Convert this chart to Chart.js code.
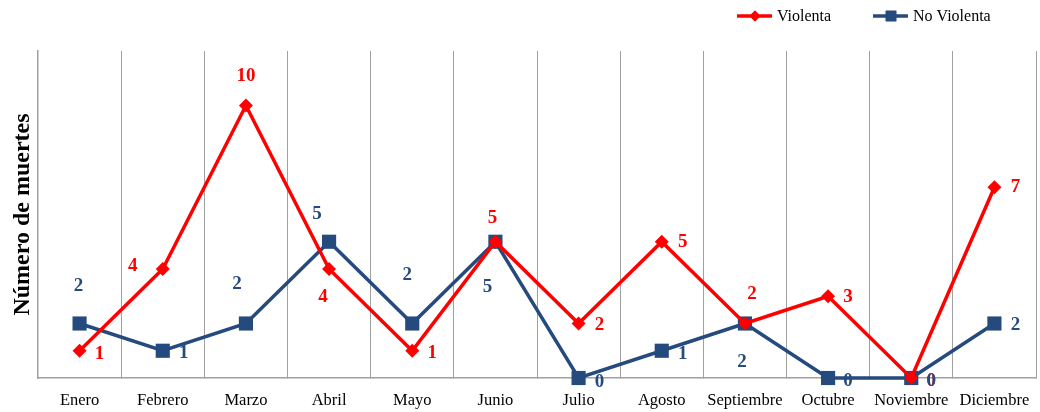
<!DOCTYPE html>
<html>
<head>
<meta charset="utf-8">
<script src="https://cdn.jsdelivr.net/npm/chart.js@4.4.1/dist/chart.umd.min.js"></script>
<style>
  html, body { margin: 0; padding: 0; background: #fff; }
  #wrap { width: 1040px; height: 412px; position: relative; }
</style>
</head>
<body>
<div id="wrap"><canvas id="muertesChart"></canvas></div>
<script>
const months = ['Enero', 'Febrero', 'Marzo', 'Abril', 'Mayo', 'Junio', 'Julio', 'Agosto', 'Septiembre', 'Octubre', 'Noviembre', 'Diciembre'];
const violenta = [1, 4, 10, 4, 1, 5, 2, 5, 2, 3, 0, 7];
const noViolenta = [2, 1, 2, 5, 2, 5, 0, 1, 2, 0, 0, 2];

const RED = '#ff0000';
const BLUE = '#254a7e';
const SERIF = '"Liberation Serif", "Times New Roman", serif';

// where each value label sits relative to its point (dx, dy)
const labelOffsets = [
  [[20, 3], [-30, -3], [0, -29], [-6, 28], [20, 2], [-3, -24], [21, 2], [21, 0], [7, -29], [20, 1], [20, 3], [21, 0]],
  [[-1, -37], [21, 2], [-9, -39], [-12, -28], [-5, -48], [-8, 45], [21, 4], [21, 3], [-3, 39], [20, 3], [20, 3], [21, 2]]
];

const valueLabels = {
  id: 'valueLabels',
  afterDatasetsDraw(chart) {
    const ctx = chart.ctx;
    ctx.save();
    ctx.font = 'bold 19px ' + SERIF;
    ctx.textAlign = 'center';
    ctx.textBaseline = 'middle';
    chart.data.datasets.forEach((ds, di) => {
      chart.getDatasetMeta(di).data.forEach((pt, i) => {
        const [dx, dy] = labelOffsets[di][i];
        ctx.fillStyle = ds.borderColor;
        ctx.fillText(String(ds.data[i]), pt.x + dx, pt.y + dy);
      });
    });
    ctx.restore();
  }
};

// legend in the top right: short line with the marker, then the name
const lineLegend = {
  id: 'lineLegend',
  afterDraw(chart) {
    const ctx = chart.ctx;
    const items = [
      { x: 737, ds: chart.data.datasets[0] },
      { x: 873, ds: chart.data.datasets[1] }
    ];
    const y = 16;
    ctx.save();
    ctx.font = '16px ' + SERIF;
    ctx.textBaseline = 'middle';
    items.forEach(({ x, ds }) => {
      ctx.strokeStyle = ds.borderColor;
      ctx.lineWidth = 3.5;
      ctx.beginPath();
      ctx.moveTo(x, y);
      ctx.lineTo(x + 35, y);
      ctx.stroke();
      ctx.fillStyle = ds.borderColor;
      Chart.helpers.drawPoint(ctx, { pointStyle: ds.pointStyle, radius: ds.pointStyle === 'rect' ? 7.5 : 5.5, rotation: 0, borderWidth: 0 }, x + 18, y);
      ctx.fill();
      ctx.fillStyle = '#000';
      ctx.fillText(ds.label, x + 40, y + 1);
    });
    ctx.restore();
  }
};

new Chart(document.getElementById('muertesChart').getContext('2d'), {
  type: 'line',
  data: {
    labels: months,
    datasets: [
      {
        label: 'Violenta',
        data: violenta,
        borderColor: RED,
        backgroundColor: RED,
        borderWidth: 3.5,
        pointStyle: 'rectRot',
        pointRadius: 7,
        pointBorderWidth: 0,
        tension: 0,
        clip: false
      },
      {
        label: 'No Violenta',
        data: noViolenta,
        borderColor: BLUE,
        backgroundColor: BLUE,
        borderWidth: 3.5,
        pointStyle: 'rect',
        pointRadius: 10,
        pointBorderWidth: 0,
        tension: 0,
        clip: false
      }
    ]
  },
  options: {
    responsive: true,
    maintainAspectRatio: false,
    animation: false,
    layout: { autoPadding: false, padding: { top: 51, right: 4, bottom: 0, left: 0 } },
    plugins: {
      legend: { display: false },
      tooltip: { enabled: false }
    },
    scales: {
      x: {
        offset: true,
        grid: { display: true, offset: true, color: '#a0a0a0', lineWidth: 1, tickLength: 0 },
        border: { display: true, color: '#a0a0a0', width: 1.5 },
        ticks: { color: '#000', font: { family: SERIF, size: 16.5 }, padding: 13, maxRotation: 0, autoSkip: false },
        afterFit(scale) {
          scale.height = 34;
          scale.paddingLeft = 0;
          scale.paddingRight = 0;
        }
      },
      y: {
        min: 0,
        max: 12,
        grid: { display: false },
        border: { display: true, color: '#a0a0a0', width: 1.5 },
        ticks: { display: false },
        title: {
          display: true,
          text: 'Número de muertes',
          color: '#000',
          font: { family: SERIF, size: 24, weight: 'bold' },
          padding: { top: 8, bottom: 0 }
        },
        afterFit(scale) { scale.width = 38; }
      }
    }
  },
  plugins: [valueLabels, lineLegend]
});
</script>
</body>
</html>
